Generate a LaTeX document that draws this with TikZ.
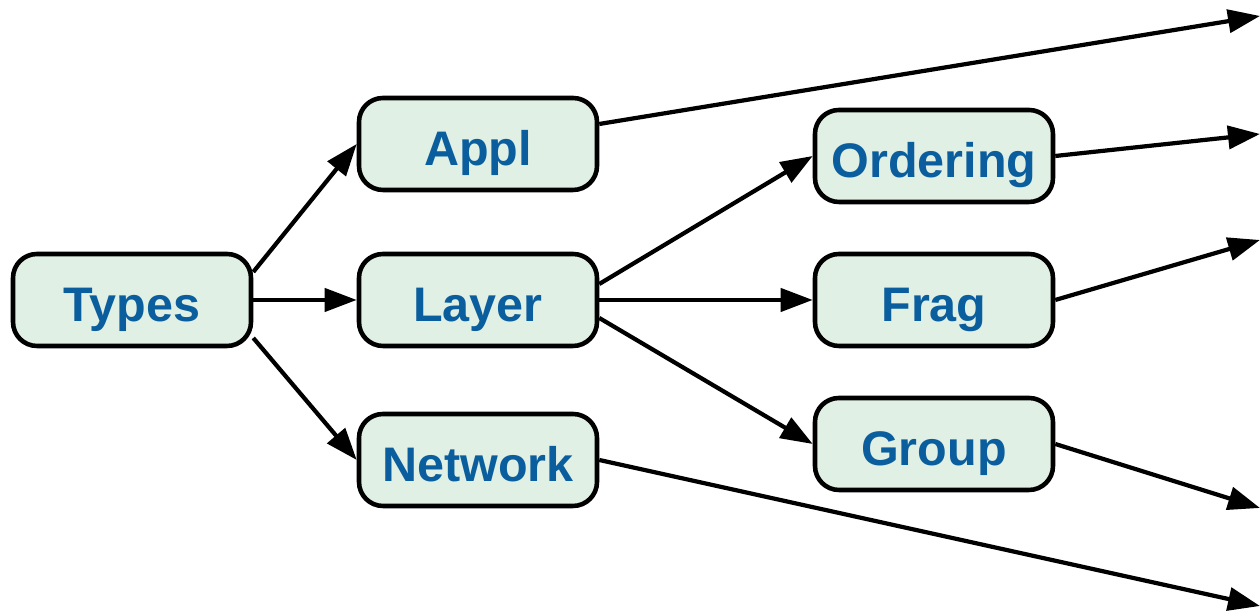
\documentclass[tikz,border=0pt]{standalone}
\usepackage{fontspec}
\setmainfont{Liberation Sans}
\usetikzlibrary{positioning,arrows.meta}
\definecolor{boxfill}{RGB}{224,240,228}
\definecolor{boxtext}{RGB}{10,94,158}

\begin{document}
\begin{tikzpicture}[node distance=1.5cm]
		% 样式
		\tikzstyle{box} = [rectangle, rounded corners=0.24cm, line width=1.3pt, minimum width=2.38cm, minimum height=0.92cm, text height=0.5cm, text depth=0.06cm, text centered, draw=black, fill=boxfill, text=boxtext, font=\fontsize{13.8}{16}\selectfont\bfseries]	% 方框
		\tikzstyle{arrow} = [line width=1.2pt, -{Triangle[length=3.2mm,width=2.3mm]}]	% 箭头
		\useasboundingbox (0,0) rectangle (12.6,6.16);
		\node (types) [box] at (1.32,3.16) {Types};
		\node (layer) [box, right of=types, xshift=1.96cm] {Layer};
		\node (appl) [box, above of=layer, yshift=0.06cm] {Appl};
		\node (network) [box, below of=layer, yshift=-0.1cm] {Network};
		\node (frag) [box, right of=layer, xshift=3.06cm] {Frag};
		\node (ordering) [box, above of=frag, yshift=-0.06cm] {Ordering};
		\node (group) [box, below of=frag, yshift=0.06cm] {Group};
		% 右侧出口
		\coordinate (out1) at (12.6,6.00);
		\coordinate (out2) at (12.6,4.82);
		\coordinate (out3) at (12.6,3.76);
		\coordinate (out4) at (12.6,1.08);
		\coordinate (out5) at (12.6,0.10);
		
		% 连线
		\draw [arrow]([yshift=0.28cm]types.east) -- (appl.west);
		\draw [arrow](types) -- (layer);
		\draw [arrow]([yshift=-0.38cm]types.east) -- (network.west);
		\draw [arrow]([yshift=0.16cm]layer.east) -- (ordering.west);
		\draw [arrow](layer) -- (frag);
		\draw [arrow]([yshift=-0.18cm]layer.east) -- (group.west);
		\draw [arrow]([yshift=0.2cm]appl.east) -- (out1);
		\draw [arrow](ordering.east) -- (out2);
		\draw [arrow](frag.east) -- (out3);
		\draw [arrow](group.east) -- (out4);
		\draw [arrow](network.east) -- (out5);
	\end{tikzpicture}
\end{document}
